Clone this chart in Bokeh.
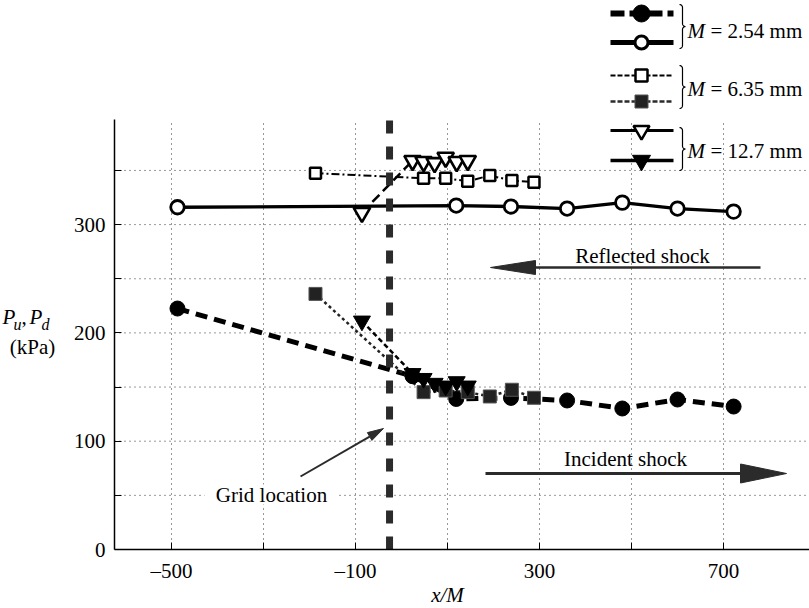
import numpy as np
from bokeh.plotting import figure
from bokeh.models import Range1d, FixedTicker, CustomJSTickFormatter
from bokeh.core.properties import value
from bokeh.embed import file_html
from bokeh.resources import INLINE

# ---- pressure (kPa) against x/M ----
# M = 2.54 mm : P_u (incident, filled) and P_d (reflected, open)
x_254_inc = [-487, 24, 119, 238, 360, 480, 600, 722]
p_254_inc = [222.5, 160, 139, 140, 137.6, 130.2, 138.5, 132]
x_254_ref = [-487, 119, 238, 360, 480, 600, 722]
p_254_ref = [316, 317.6, 316.7, 314.8, 320.3, 314.8, 312]
# M = 6.35 mm
x_635 = [-187, 48, 96, 144, 192, 240, 288]
p_635_ref = [347.5, 342.8, 342.8, 340, 345.3, 340.7, 339.2]
p_635_inc = [236, 145.3, 146.8, 145.3, 141.3, 147.5, 140.1]
# M = 12.7 mm
x_127 = [-86, 24, 48, 72, 96, 120, 144]
p_127_ref = [311, 359, 358, 357, 362, 358, 359]
p_127_inc = [211, 162.5, 158, 153.5, 151, 155, 151]

grid_location = -26  # x/M position of the grid

x_ticks = [-500, -100, 300, 700]
x_minor_ticks = [-300, 100, 500]
y_ticks = [0, 100, 200, 300]
y_minor_ticks = [50, 150, 250, 350]
mesh_sizes = ["2.54", "6.35", "12.7"]

# ---- canvas geometry ----
W, H = 809, 608
SX, SY = 0.46, 1.083      # pixels per unit of x/M and per kPa
X0, Y0 = 401, 549         # canvas pixel of x/M = 0 and of 0 kPa


def cx(px):
    return (px - X0) / SX


def cy(py):
    return (Y0 - py) / SY


x_left = cx(114)
x_right = cx(W)
y_top = 397
FONT = "Liberation Serif"
INK = "#2b2b2b"

p = figure(width=W, height=H, x_range=Range1d(cx(0), cx(W)), y_range=Range1d(cy(H), cy(0)),
           output_backend="svg", toolbar_location=None, min_border=0,
           outline_line_color=None, background_fill_color="white", border_fill_color="white")
p.xgrid.visible = False
p.ygrid.visible = False

xa, ya = p.xaxis[0], p.yaxis[0]
xa.fixed_location = 0
xa.bounds = (x_left, x_right)
xa.ticker = FixedTicker(ticks=x_ticks, minor_ticks=x_minor_ticks)
xa.formatter = CustomJSTickFormatter(code="return tick < 0 ? '\\u2013' + Math.abs(tick) : String(tick);")
ya.fixed_location = x_left
ya.bounds = (0, y_top)
ya.ticker = FixedTicker(ticks=y_ticks, minor_ticks=y_minor_ticks)
for ax in (xa, ya):
    ax.axis_line_color = "black"
    ax.axis_line_width = 1.5
    ax.major_tick_in = 7
    ax.major_tick_out = 0
    ax.minor_tick_in = 7
    ax.minor_tick_out = 0
    ax.major_tick_line_color = "black"
    ax.minor_tick_line_color = "black"
    ax.major_label_text_font = FONT
    ax.major_label_text_font_size = "21px"
    ax.major_label_text_color = "black"
    ax.major_label_standoff = 9

# dotted grid, limited to the data box
gx = sorted(x_ticks + x_minor_ticks)
gy = sorted(y_ticks[1:] + y_minor_ticks)
p.segment(x0=gx, y0=[0] * len(gx), x1=gx, y1=[y_top] * len(gx),
          line_color="#333333", line_width=1, line_dash="1 4")
p.segment(x0=[x_left] * len(gy), y0=gy, x1=[x_right] * len(gy), y1=gy,
          line_color="#333333", line_width=1, line_dash="1 4")


def text(px, py, s, size=21, style="normal", align="left"):
    p.text(x=[cx(px)], y=[cy(py)], text=[s], text_font=value(FONT),
           text_font_size=value(f"{size}px"), text_font_style=style,
           text_align=align, text_baseline="middle", text_color="black")


def head(tip, base, half):
    (tx, ty), (bx, by) = tip, base
    vx, vy = bx - tx, by - ty
    ln = np.hypot(vx, vy)
    nx, ny = -vy / ln, vx / ln
    pts = [(tx, ty), (bx + nx * half, by + ny * half), (bx - nx * half, by - ny * half)]
    return [cx(a) for a, _ in pts], [cy(b) for _, b in pts]


def arrow(tail, tip, head_len, half, width):
    ux, uy = tip[0] - tail[0], tip[1] - tail[1]
    ln = np.hypot(ux, uy)
    base = (tip[0] - ux / ln * head_len, tip[1] - uy / ln * head_len)
    p.line([cx(tail[0]), cx(base[0])], [cy(tail[1]), cy(base[1])], line_color=INK, line_width=width)
    hx, hy = head(tip, base, half)
    p.patch(hx, hy, fill_color=INK, line_color=INK, line_width=1)


# shock direction arrows and labels
arrow((760, 267), (490, 267), 45, 7, 2.5)
text(642, 255, "Reflected shock", align="center")
arrow((485, 473), (786, 473), 46, 9.5, 3)
text(625, 458, "Incident shock", align="center")

# grid location callout
p.rect(x=[cx(271)], y=[cy(494)], width=134 / SX, height=20 / SY, fill_color="white", line_color=None)
text(271, 494, "Grid location", align="center")
arrow((300, 476), (383, 428), 16, 4.5, 2)

# axis titles
text(2, 316, "P", style="italic")
text(13, 324, "u", size=16, style="italic")
text(21, 316, ",")
text(29, 316, "P", style="italic")
text(41, 324, "d", size=16, style="italic")
text(32, 346, "(kPa)", align="center")
text(447, 594, "x/M", style="italic", align="center")

# data series: connecting lines
p.line(x_254_inc, p_254_inc, line_color="black", line_width=5, line_dash="12 7")
p.line(x_254_ref, p_254_ref, line_color="black", line_width=3.3)
p.line(x_635, p_635_ref, line_color="black", line_width=2, line_dash="8 3 2 3")
p.line(x_635, p_635_inc, line_color="#222222", line_width=2.5, line_dash="3 3")
p.line(x_127, p_127_ref, line_color="black", line_width=2.5, line_dash="10 5")
p.line(x_127, p_127_inc, line_color="black", line_width=2.5, line_dash="5 3")

# grid position
p.segment(x0=[grid_location], y0=[0], x1=[grid_location], y1=[y_top],
          line_color=INK, line_width=7, line_dash="13 13")

# data series: markers
p.scatter(x_254_inc, p_254_inc, marker="circle", size=15, fill_color="black", line_color="black")
p.scatter(x_635, p_635_inc, marker="square", size=13, fill_color="#222222", line_color="#555555", line_width=1)
p.scatter(x_127, p_127_inc, marker="inverted_triangle", size=17, fill_color="black", line_color="black")
p.scatter(x_254_ref, p_254_ref, marker="circle", size=13.5, fill_color="white", line_color="black", line_width=2.8)
p.scatter(x_635, p_635_ref, marker="square", size=11, fill_color="white", line_color="black", line_width=2.5)
p.scatter(x_127, p_127_ref, marker="inverted_triangle", size=16.5, fill_color="white", line_color="black", line_width=2.6)

# legend
rows = [
    (13, dict(line_color="black", line_width=6, line_dash="14 5"),
     dict(marker="circle", size=17, fill_color="black", line_color="black")),
    (42, dict(line_color="black", line_width=5),
     dict(marker="circle", size=13, fill_color="white", line_color="black", line_width=3)),
    (75, dict(line_color="black", line_width=2, line_dash="5 2"),
     dict(marker="square", size=12, fill_color="white", line_color="black", line_width=2.5)),
    (101, dict(line_color=INK, line_width=2.5, line_dash="5 2"),
     dict(marker="square", size=13, fill_color="#222222", line_color="#555555", line_width=1)),
    (130, dict(line_color="black", line_width=3),
     dict(marker="inverted_triangle", size=16, fill_color="white", line_color="black", line_width=2.5)),
    (160, dict(line_color="black", line_width=3.5),
     dict(marker="inverted_triangle", size=18, fill_color="black", line_color="black")),
]
for ry, lstyle, mstyle in rows:
    p.line([cx(610), cx(673)], [cy(ry), cy(ry)], **lstyle)
    p.scatter([cx(641)], [cy(ry)], **mstyle)


def brace(top, bottom, left=679, d=3):
    mid = (top + bottom) / 2
    t = np.linspace(0, np.pi / 2, 10)
    xs = list(left + d * np.sin(t)) + list(left + d + d * (1 - np.cos(t)))
    ys = list(top + d * (1 - np.cos(t))) + list(mid - d + d * np.sin(t))
    xs = xs + xs[::-1]
    ys = ys + [2 * mid - y for y in ys[::-1]]
    p.line([cx(a) for a in xs], [cy(b) for b in ys], line_color="black", line_width=1.2)


groups = [(4, 48, 30), (65, 108, 88), (127, 170, 150)]
for (top, bottom, ty), size in zip(groups, mesh_sizes):
    brace(top, bottom)
    text(687, ty, "M", style="italic")
    text(710, ty, f"= {size} mm")

open("out.html", "w").write(file_html(p, INLINE))
